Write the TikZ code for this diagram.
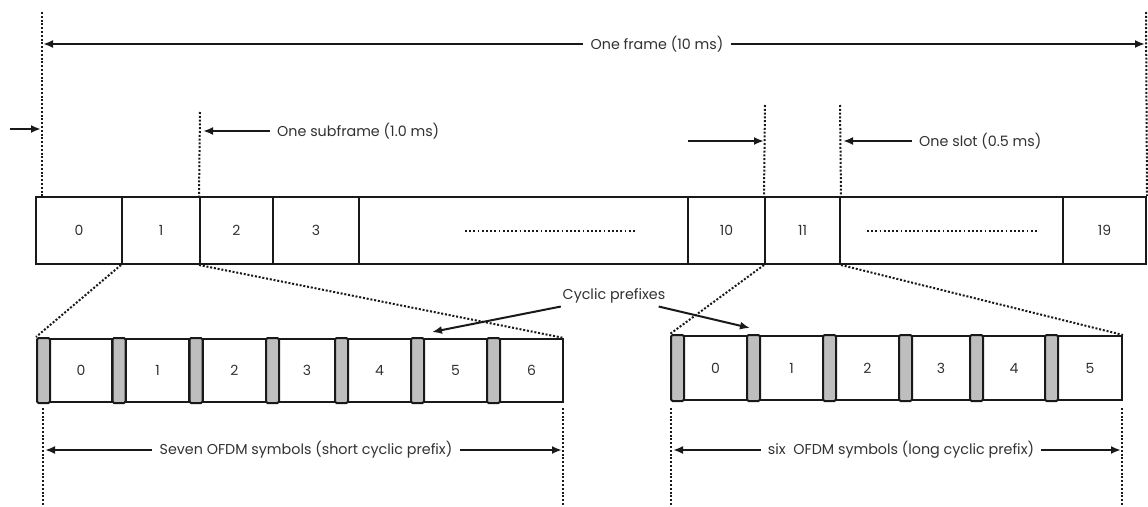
\documentclass[tikz,border=0pt]{standalone}
\usepackage{fontspec}
\setmainfont{Poppins}
\usetikzlibrary{arrows.meta}
\definecolor{cp_grey}{RGB}{190, 190, 190}
\definecolor{txt_grey}{RGB}{50, 50, 50}
\definecolor{ln_black}{RGB}{25, 25, 25}
\tikzstyle{none}=[inner sep=0pt,minimum size=0pt]
\tikzstyle{slot}=[rectangle,draw=ln_black,line width=2pt,inner sep=0pt,
  minimum height=67pt,text=txt_grey,font=\fontsize{14}{16}\selectfont]
\tikzstyle{sym}=[rectangle,draw=ln_black,line width=2pt,inner sep=0pt,
  minimum height=63pt,text=txt_grey,font=\fontsize{14}{16}\selectfont]
\tikzstyle{cp}=[rectangle,rounded corners=1.5pt,fill=cp_grey,draw=ln_black,
  line width=2pt,inner sep=0pt,minimum width=13pt,minimum height=65pt]
\tikzstyle{lbl}=[fill=white,text=txt_grey,inner sep=7pt,
  font=\fontsize{14.3}{16}\selectfont]
\tikzstyle{guide}=[draw=ln_black,line width=2pt,dash pattern=on 2pt off 1.8pt]
\tikzstyle{fill_dots}=[draw=ln_black,line width=1.8pt,dash pattern=on 1.8pt off 2.4pt]
\tikzstyle{dimarrow}=[draw=ln_black,line width=2pt,-{Latex[length=10pt,width=8pt]}]

\begin{document}
\begin{tikzpicture}[x=1pt,y=-1pt]
            \useasboundingbox (0,0) rectangle (1148,506);
            % frame of twenty slots
            \node [style=slot,minimum width=86] (s0) at (79, 230.5) {0};
            \node [style=slot,minimum width=78] (s1) at (161, 230.5) {1};
            \node [style=slot,minimum width=73] (s2) at (236.5, 230.5) {2};
            \node [style=slot,minimum width=86] (s3) at (316, 230.5) {3};
            \node [style=slot,minimum width=329] (sa) at (523.5, 230.5) {};
            \node [style=slot,minimum width=77] (s10) at (726.5, 230.5) {10};
            \node [style=slot,minimum width=75] (s11) at (802.5, 230.5) {11};
            \node [style=slot,minimum width=223] (sb) at (951.5, 230.5) {};
            \node [style=slot,minimum width=83] (s19) at (1104.5, 230.5) {19};
            \node [style=none] (da1) at (465, 231) {};
            \node [style=none] (da2) at (635, 231) {};
            \node [style=none] (db1) at (867, 231) {};
            \node [style=none] (db2) at (1037, 231) {};
            \draw [style=fill_dots] (da1.center) to (da2.center);
            \draw [style=fill_dots] (db1.center) to (db2.center);
            % seven symbols, short cyclic prefix
            \node [style=sym,minimum width=62] (ls0) at (81, 370.5) {0};
            \node [style=sym,minimum width=63] (ls1) at (157.5, 370.5) {1};
            \node [style=sym,minimum width=63] (ls2) at (234.5, 370.5) {2};
            \node [style=sym,minimum width=56] (ls3) at (307, 370.5) {3};
            \node [style=sym,minimum width=63] (ls4) at (379.5, 370.5) {4};
            \node [style=sym,minimum width=63] (ls5) at (455.5, 370.5) {5};
            \node [style=sym,minimum width=63] (ls6) at (531.5, 370.5) {6};
            \node [style=cp] (lc0) at (43.5, 370.5) {};
            \node [style=cp] (lc1) at (119, 370.5) {};
            \node [style=cp] (lc2) at (196, 370.5) {};
            \node [style=cp] (lc3) at (272.5, 370.5) {};
            \node [style=cp] (lc4) at (341.5, 370.5) {};
            \node [style=cp] (lc5) at (417.5, 370.5) {};
            \node [style=cp] (lc6) at (493.5, 370.5) {};
            % six symbols, long cyclic prefix
            \node [style=sym,minimum width=63,minimum height=64] (rs0) at (715.5, 368) {0};
            \node [style=sym,minimum width=63,minimum height=64] (rs1) at (791.5, 368) {1};
            \node [style=sym,minimum width=63,minimum height=64] (rs2) at (867.5, 368) {2};
            \node [style=sym,minimum width=58,minimum height=64] (rs3) at (941, 368) {3};
            \node [style=sym,minimum width=62,minimum height=64] (rs4) at (1014, 368) {4};
            \node [style=sym,minimum width=64,minimum height=64] (rs5) at (1090, 368) {5};
            \node [style=cp,minimum height=66] (rc0) at (677.5, 368) {};
            \node [style=cp,minimum height=66] (rc1) at (753.5, 368) {};
            \node [style=cp,minimum height=66] (rc2) at (829.5, 368) {};
            \node [style=cp,minimum height=66] (rc3) at (905.5, 368) {};
            \node [style=cp,minimum height=66] (rc4) at (976.5, 368) {};
            \node [style=cp,minimum height=66] (rc5) at (1051.5, 368) {};
            % guide lines
            \node [style=none] (g1) at (42, 12) {};
            \node [style=none] (g2) at (42, 197) {};
            \node [style=none] (g3) at (1146, 12) {};
            \node [style=none] (g4) at (200, 112) {};
            \node [style=none] (g5) at (765, 105) {};
            \node [style=none] (g6) at (840, 105) {};
            \draw [style=guide] (g1.center) to (g2.center);
            \draw [style=guide] (g3.center) to (s19.north east);
            \draw [style=guide] (g4.center) to (s2.north west);
            \draw [style=guide] (g5.center) to (s11.north west);
            \draw [style=guide] (g6.center) to (s11.north east);
            \draw [style=guide] (s1.south west) to (lc0.north west);
            \draw [style=guide] (s2.south west) to (ls6.north east);
            \draw [style=guide] (s11.south west) to (rc0.north west);
            \draw [style=guide] (s11.south east) to (rs5.north east);
            \node [style=none] (g7) at (43, 408) {};
            \node [style=none] (g8) at (43, 506) {};
            \node [style=none] (g9) at (563, 408) {};
            \node [style=none] (g10) at (563, 506) {};
            \node [style=none] (g11) at (671, 408) {};
            \node [style=none] (g12) at (671, 506) {};
            \node [style=none] (g13) at (1122, 408) {};
            \node [style=none] (g14) at (1122, 506) {};
            \draw [style=guide] (g7.center) to (g8.center);
            \draw [style=guide] (g9.center) to (g10.center);
            \draw [style=guide] (g11.center) to (g12.center);
            \draw [style=guide] (g13.center) to (g14.center);
            % durations
            \node [style=lbl] (frame) at (657, 44) {One frame (10 ms)};
            \node [style=none] (f1) at (43, 44) {};
            \node [style=none] (f2) at (1145, 44) {};
            \draw [style=dimarrow] (frame) to (f1.center);
            \draw [style=dimarrow] (frame) to (f2.center);
            \node [style=none] (a1) at (10, 129) {};
            \node [style=none] (a2) at (41, 129) {};
            \draw [style=dimarrow] (a1.center) to (a2.center);
            \node [style=lbl,anchor=west] (subframe) at (270, 131) {One subframe (1.0 ms)};
            \node [style=none] (a3) at (203, 131) {};
            \draw [style=dimarrow] (subframe) to (a3.center);
            \node [style=none] (a4) at (688, 141) {};
            \node [style=none] (a5) at (764, 141) {};
            \draw [style=dimarrow] (a4.center) to (a5.center);
            \node [style=lbl,anchor=west] (slot) at (912, 141) {One slot (0.5 ms)};
            \node [style=none] (a6) at (843, 141) {};
            \draw [style=dimarrow] (slot) to (a6.center);
            \node [style=lbl] (seven) at (306, 450) {Seven OFDM symbols (short cyclic prefix)};
            \node [style=none] (b1) at (45, 450) {};
            \node [style=none] (b2) at (562, 450) {};
            \draw [style=dimarrow] (seven) to (b1.center);
            \draw [style=dimarrow] (seven) to (b2.center);
            \node [style=lbl] (six) at (901, 450) {six\ \ OFDM symbols (long cyclic prefix)};
            \node [style=none] (b3) at (673, 450) {};
            \node [style=none] (b4) at (1121, 450) {};
            \draw [style=dimarrow] (six) to (b3.center);
            \draw [style=dimarrow] (six) to (b4.center);
            % cyclic prefixes
            \node [style=lbl,inner sep=3pt] (cyc) at (614, 296) {Cyclic prefixes};
            \node [style=none] (c1) at (432, 332) {};
            \node [style=none] (c2) at (750, 328) {};
            \draw [style=dimarrow] (cyc) to (c1.center);
            \draw [style=dimarrow] (cyc) to (c2.center);
    \end{tikzpicture}
\end{document}
